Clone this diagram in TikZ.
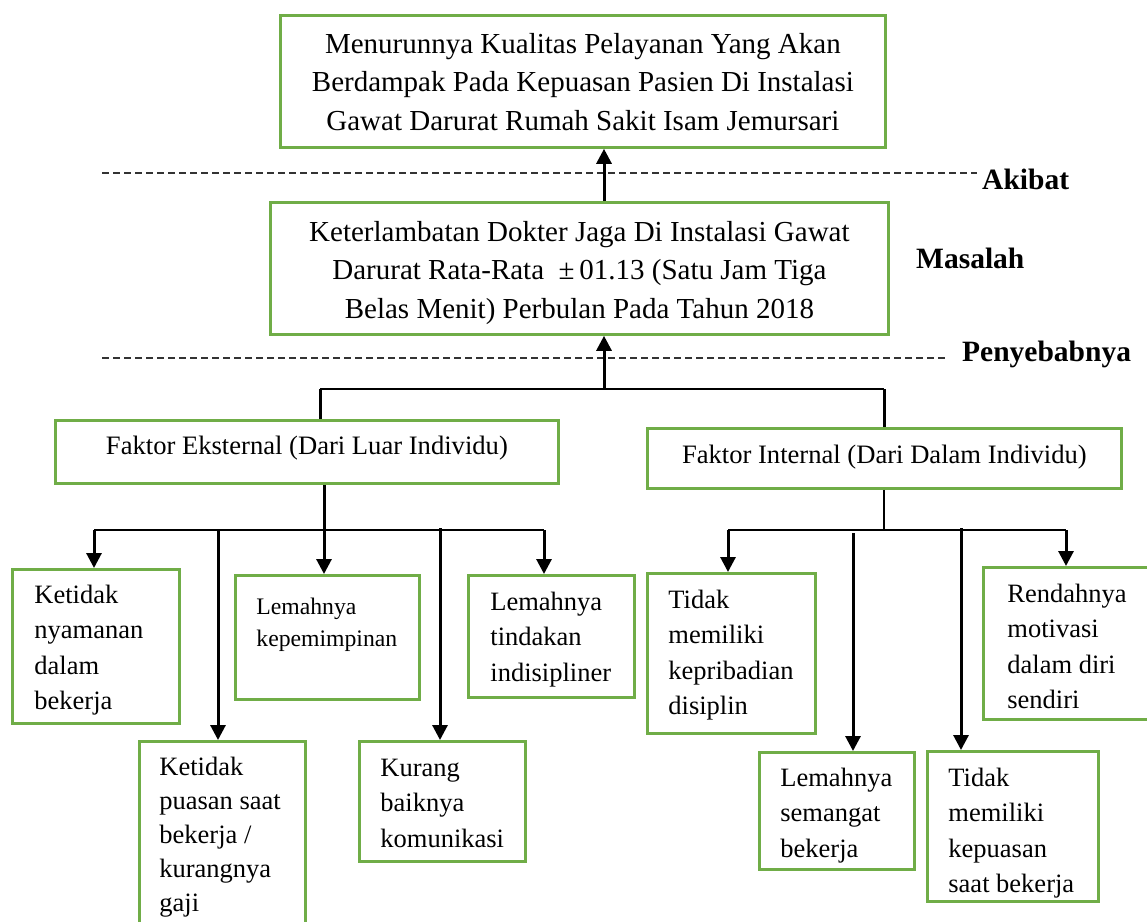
\documentclass[tikz,border=0pt]{standalone}
\usepackage{fontspec}
\setmainfont{Liberation Serif}
\usetikzlibrary{arrows.meta}
\definecolor{boxgreen}{HTML}{70AD47}
\newcommand{\myLbox}[5]{\parbox[c][#2pt][t]{#1pt}{\raggedright\leftskip=#3pt\relax\rule{0pt}{#4pt}#5\par}}
\newcommand{\myCbox}[4]{\parbox[c][#2pt][t]{#1pt}{\centering\rule{0pt}{#3pt}#4\par}}
\begin{document}
\begin{tikzpicture}[x=1pt,y=-1pt,
  gbox/.style={draw=boxgreen,line width=2.8pt,anchor=north west,inner sep=0pt},
  leaftext/.style={font=\fontsize{26.5}{35.3}\selectfont},
  maintext/.style={font=\fontsize{29}{38.5}\selectfont},
  faktortext/.style={font=\fontsize{26.6}{32}\selectfont},
  conn/.style={line width=1.7pt},
  thinconn/.style={line width=1.3pt},
  thickconn/.style={line width=3pt},
  arr/.style={line width=3pt,-{Triangle[width=15pt,length=15pt]}},
  sep/.style={line width=1.3pt,draw=black!80,dash pattern=on 7pt off 4pt},
  lab/.style={font=\fontsize{29.5}{35}\selectfont\bfseries,anchor=base west,inner sep=0pt}]
\useasboundingbox (0,0) rectangle (1147,921);

% separators
\coordinate (s1a) at (102,173); \coordinate (s1b) at (977,173);
\coordinate (s2a) at (102,358); \coordinate (s2b) at (945,358);
\draw[sep] (s1a) -- (s1b);
\draw[sep] (s2a) -- (s2b);

% labels
\node[lab] (akibat) at (982,189) {Akibat};
\node[lab] (masalah) at (916,268) {Masalah};
\node[lab] (penyebab) at (962,361) {Penyebabnya};

% main boxes
\node[gbox,maintext] (effect) at (279,14) {\myCbox{605}{132}{38}{Menurunnya Kualitas Pelayanan Yang Akan\\Berdampak Pada Kepuasan Pasien Di Instalasi\\Gawat Darurat Rumah Sakit Isam Jemursari}};
\node[gbox,maintext] (problem) at (269,201) {\myCbox{618}{132}{39}{Keterlambatan Dokter Jaga Di Instalasi Gawat\\Darurat Rata-Rata\ \ ±\,01.13 (Satu Jam Tiga\\Belas Menit) Perbulan Pada Tahun 2018}};

% factor boxes
\node[gbox,faktortext] (ext) at (54,419) {\myCbox{503}{63}{34}{Faktor Eksternal (Dari Luar Individu)}};
\node[gbox,faktortext] (int) at (646,427) {\myCbox{474}{60}{35}{Faktor Internal (Dari Dalam Individu)}};

% external leaves
\node[gbox,leaftext] (e1) at (11,568) {\myLbox{167}{154}{22}{34}{Ketidak\\nyamanan\\dalam\\bekerja}};
\node[gbox,font=\fontsize{26.5}{34}\selectfont] (e2) at (138,740) {\myLbox{166}{200}{20}{34}{Ketidak\\puasan saat\\bekerja /\\kurangnya\\gaji}};
\node[gbox,font=\fontsize{23.7}{32}\selectfont] (e3) at (234,574) {\myLbox{184}{124}{21}{39}{Lemahnya\\kepemimpinan}};
\node[gbox,leaftext] (e4) at (358,740) {\myLbox{166}{120}{21}{35}{Kurang\\baiknya\\komunikasi}};
\node[gbox,leaftext] (e5) at (467,574) {\myLbox{166}{122}{22}{35}{Lemahnya\\tindakan\\indisipliner}};

% internal leaves
\node[gbox,leaftext] (i1) at (646,572) {\myLbox{168}{160}{21}{35}{Tidak\\memiliki\\kepribadian\\disiplin}};
\node[gbox,leaftext] (i2) at (758,751) {\myLbox{155}{117}{21}{34}{Lemahnya\\semangat\\bekerja}};
\node[gbox,leaftext] (i3) at (926,750) {\myLbox{171}{150}{21}{35}{Tidak\\memiliki\\kepuasan\\saat bekerja}};
\node[gbox,leaftext] (i4) at (982,566) {\myLbox{172}{152}{24}{35}{Rendahnya\\motivasi\\dalam diri\\sendiri}};

% top connectors
\coordinate (bar) at (604,389);
\coordinate (barL) at (320,389);
\coordinate (barR) at (884,389);
\draw[conn] (barL) -- (barR);
\draw[thickconn] (barL) -- (barL |- ext.north);
\draw[thickconn] (barR) -- (barR |- int.north);
\draw[arr] (bar) -- (bar |- problem.south);
\draw[arr] (problem.north -| bar) -- (effect.south -| bar);

% external subtree
\coordinate (ebar) at (324,530);
\coordinate (ebarL) at (94,530);
\coordinate (ebarR) at (544,530);
\coordinate (e2top) at (218,530);
\coordinate (e4top) at (440,528);
\draw[conn] (ebarL) -- (ebarR);
\draw[arr] (ext.south -| ebar) -- (e3.north -| ebar);
\draw[arr] (ebarL) -- (ebarL |- e1.north);
\draw[arr] (e2top) -- (e2top |- e2.north);
\draw[arr] (e4top) -- (e4top |- e4.north);
\draw[arr] (ebarR) -- (ebarR |- e5.north);

% internal subtree
\coordinate (ibar) at (884,530);
\coordinate (ibarL) at (728,530);
\coordinate (ibarR) at (1066,530);
\coordinate (i2top) at (853,533);
\coordinate (i3top) at (961,528);
\draw[conn] (ibarL) -- (ibarR);
\draw[thinconn] (int.south -| ibar) -- (ibar);
\draw[arr] (ibarL) -- (ibarL |- i1.north);
\draw[arr] (i2top) -- (i2top |- i2.north);
\draw[arr] (i3top) -- (i3top |- i3.north);
\draw[arr] (ibarR) -- (ibarR |- i4.north);
\end{tikzpicture}
\end{document}
